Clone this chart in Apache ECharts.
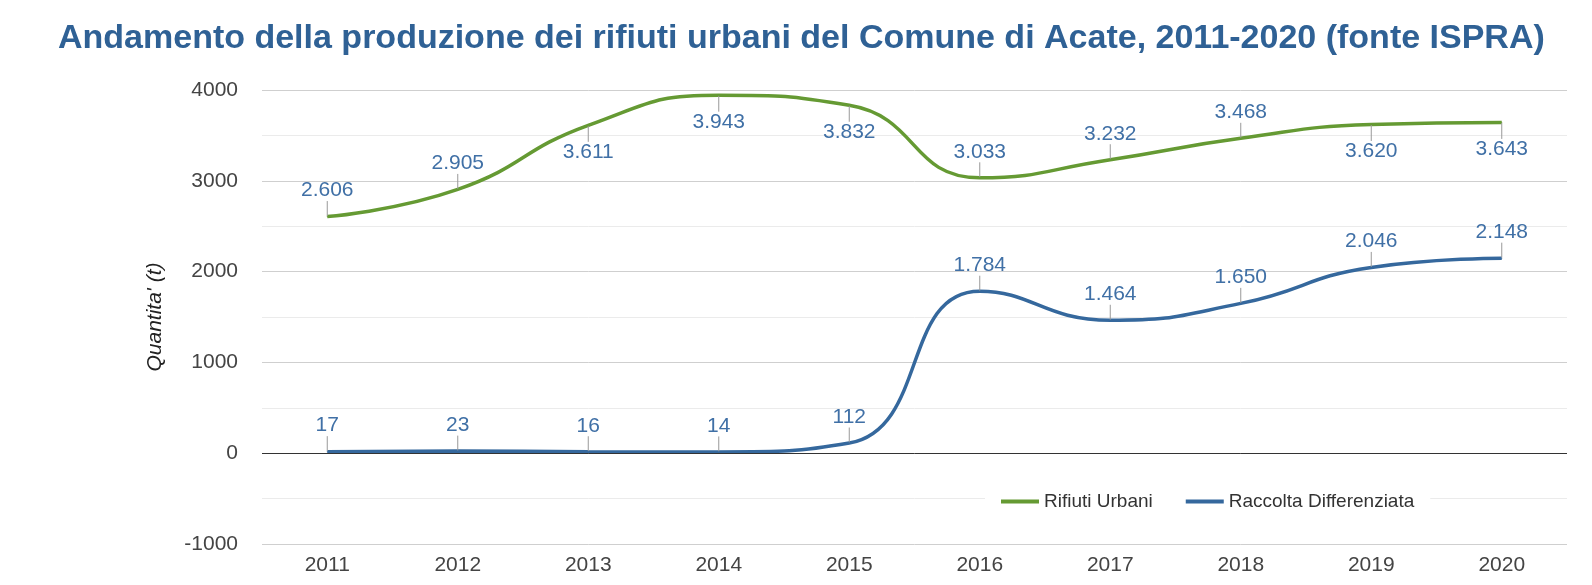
<!DOCTYPE html>
<html>
<head>
<meta charset="utf-8">
<script src="https://cdn.jsdelivr.net/npm/echarts@6/dist/echarts.min.js"></script>
<style>
	html, body {margin: 0; padding: 0; background: #fff;}
	#chart {width: 1592px; height: 585px;}
</style>
</head>
<body>
<div id="chart"></div>
<script>
const years = ['2011', '2012', '2013', '2014', '2015', '2016', '2017', '2018', '2019', '2020'];
const rifiutiUrbani = [2606, 2905, 3611, 3943, 3832, 3033, 3232, 3468, 3620, 3643];
const raccoltaDifferenziata = [17, 23, 16, 14, 112, 1784, 1464, 1650, 2046, 2148];
const yTicks = [-1000, 0, 1000, 2000, 3000, 4000];

// which green labels hang under the line instead of above it
const greenBelow = [2, 3, 4, 8, 9];

const font = 'Liberation Sans, Arial, sans-serif';
const green = '#659a33';
const blue = '#35689d';

const thousands = v => String(v).replace(/\B(?=(\d{3})+(?!\d))/g, '.');

function valueLabel(below)
{
	return {
		show: true,
		position: below ? 'bottom' : 'top',
		distance: 0,
		color: '#4070a6',
		fontFamily: font,
		fontSize: 21,
		formatter: e => thousands(e.value)
	};
}

function series(name, values, color, below)
{
	return {
		name,
		type: 'line',
		smooth: 0.5,
		symbol: 'circle',
		symbolSize: 1,
		showSymbol: true,
		lineStyle: {color, width: 3.5},
		itemStyle: {color},
		data: values.map((value, index) => ({value, label: valueLabel(below.includes(index))})),
		labelLayout: e => ({dy: below.includes(e.dataIndex) ? 16 : -15}),
		labelLine: {show: true, lineStyle: {color: '#999', width: 1}}
	};
}

const chart = echarts.init(document.getElementById('chart'));
chart.setOption({
	animation: false,
	textStyle: {fontFamily: font},
	title: {
		text: 'Andamento della produzione dei rifiuti urbani del Comune di Acate, 2011-2020 (fonte ISPRA)',
		left: 53,
		top: 17,
		textStyle: {color: '#2f6195', fontSize: 34, fontWeight: 'bold', fontFamily: font}
	},
	grid: {left: 262, right: 25, top: 90, bottom: 41},
	legend: {
		left: 985,
		top: 489,
		icon: 'rect',
		itemWidth: 38,
		itemHeight: 4,
		itemGap: 33,
		padding: [3, 16],
		backgroundColor: '#fff',
		textStyle: {fontSize: 19, color: '#333', fontFamily: font},
		data: ['Rifiuti Urbani', 'Raccolta Differenziata']
	},
	xAxis: {
		type: 'category',
		data: years,
		boundaryGap: true,
		axisLine: {show: false, onZero: false},
		axisTick: {show: false},
		axisLabel: {fontSize: 21, color: '#444', margin: 11}
	},
	yAxis: {
		type: 'value',
		min: yTicks[0],
		max: yTicks[yTicks.length - 1],
		interval: 1000,
		name: "Quantita' (t)",
		nameLocation: 'middle',
		nameGap: 96,
		nameTextStyle: {fontSize: 21, fontStyle: 'italic', color: '#222'},
		axisLine: {show: false},
		axisTick: {show: false},
		axisLabel: {fontSize: 21, color: '#444', margin: 24, formatter: v => String(v)},
		splitLine: {lineStyle: {color: '#cfcfcf'}},
		minorTick: {show: false, splitNumber: 2},
		minorSplitLine: {show: true, lineStyle: {color: '#ebebeb'}}
	},
	series: [
		series('Rifiuti Urbani', rifiutiUrbani, green, greenBelow),
		Object.assign(series('Raccolta Differenziata', raccoltaDifferenziata, blue, []), {
			markLine: {
				silent: true,
				symbol: 'none',
				label: {show: false},
				lineStyle: {color: '#333', width: 1, type: 'solid'},
				data: [{yAxis: 0}]
			}
		})
	]
});
</script>
</body>
</html>
